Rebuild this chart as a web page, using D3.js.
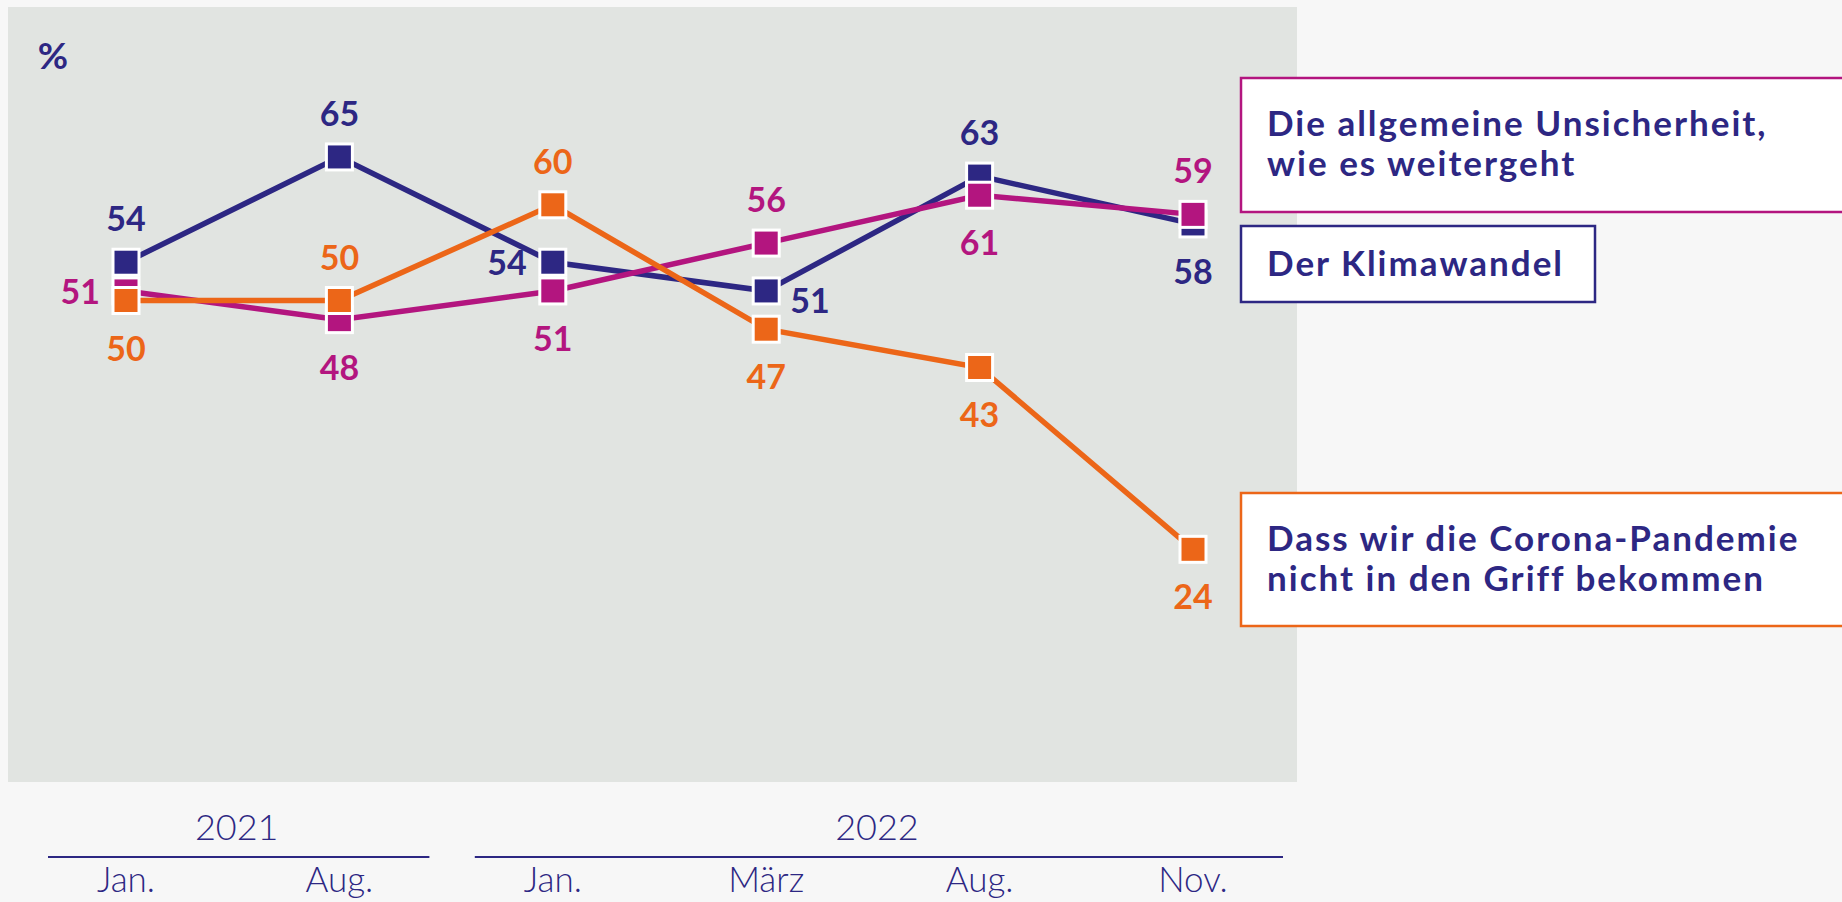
<!DOCTYPE html>
<html>
<head>
<meta charset="utf-8">
<script src="https://cdn.jsdelivr.net/npm/d3@7"></script>
<style>
  body { margin: 0; background: #f7f7f7; }
  svg { display: block; }
</style>
</head>
<body>
<div id="chart"></div>
<script>
// data
var months = ["Jan.", "Aug.", "Jan.", "März", "Aug.", "Nov."];
var years = ["2021", "2022"];
var yearFirst = [0, 2];   // first month index of each year
var yearLast = [1, 5];    // last month index of each year
var klimawandel = [54, 65, 54, 51, 63, 58];
var unsicherheit = [51, 48, 51, 56, 61, 59];
var corona = [50, 50, 60, 47, 43, 24];

var width = 1842, height = 902;
var navy = "#2d2783", magenta = "#b3157f", orange = "#ec6618";

var svg = d3.select("#chart").append("svg")
  .attr("width", width)
  .attr("height", height);

// grey plot panel
svg.append("rect")
  .attr("x", 8).attr("y", 7)
  .attr("width", 1289).attr("height", 775)
  .attr("fill", "#e1e4e1");

var x = d3.scalePoint()
  .domain(d3.range(months.length))
  .range([126, 1193]);

var y = d3.scaleLinear()
  .domain([20, 70])
  .range([587.6, 109.1]);

svg.append("text")
  .attr("x", 53).attr("y", 69)
  .attr("text-anchor", "middle")
  .attr("fill", navy)
  .style("font", "700 37px Lato, sans-serif")
  .text("%");

// label side for each point: a = above, b = below, l = left, r = right
var series = [
  {values: klimawandel, color: navy, sides: ["a", "a", "l", "r", "a", "b"]},
  {values: unsicherheit, color: magenta, sides: ["l", "b", "b", "a", "b", "a"]},
  {values: corona, color: orange, sides: ["b", "a", "a", "b", "b", "b"]}
];

var line = d3.line()
  .x(function(d, i) { return x(i); })
  .y(function(d) { return y(d); });

var sq = 26;

series.forEach(function(s) {
  var g = svg.append("g");
  g.append("path")
    .datum(s.values)
    .attr("d", line)
    .attr("fill", "none")
    .attr("stroke", s.color)
    .attr("stroke-width", 5.5);

  g.selectAll("rect")
    .data(s.values)
    .enter()
    .append("rect")
    .attr("x", function(d, i) { return x(i) - sq / 2; })
    .attr("y", function(d) { return y(d) - sq / 2; })
    .attr("width", sq).attr("height", sq)
    .attr("fill", s.color)
    .attr("stroke", "#ffffff")
    .attr("stroke-width", 3);
});

// value labels drawn after all the marks
series.forEach(function(s) {
  svg.append("g").selectAll("text")
    .data(s.values)
    .enter()
    .append("text")
    .attr("x", function(d, i) {
      var side = s.sides[i];
      if (side == "l") return x(i) - 26;
      if (side == "r") return x(i) + 24;
      return x(i);
    })
    .attr("y", function(d, i) {
      var side = s.sides[i];
      if (side == "a") return y(d) - 31;
      if (side == "b") return y(d) + 60;
      if (side == "r") return y(d) + 22;
      return y(d) + 13;
    })
    .attr("text-anchor", function(d, i) {
      var side = s.sides[i];
      return side == "l" ? "end" : (side == "r" ? "start" : "middle");
    })
    .attr("fill", s.color)
    .style("font", "700 34px Lato, sans-serif")
    .text(function(d) { return d; });
});

// legend boxes
var legend = [
  {lines: ["Die allgemeine Unsicherheit,", "wie es weitergeht"], color: magenta, y: 78, w: 640, h: 134},
  {lines: ["Der Klimawandel"], color: navy, y: 226, w: 354, h: 76},
  {lines: ["Dass wir die Corona-Pandemie", "nicht in den Griff bekommen"], color: orange, y: 493, w: 640, h: 133}
];

legend.forEach(function(l) {
  svg.append("rect")
    .attr("x", 1241).attr("y", l.y)
    .attr("width", l.w).attr("height", l.h)
    .attr("fill", "#ffffff")
    .attr("stroke", l.color)
    .attr("stroke-width", 2.5);
  var first = l.lines.length == 1 ? l.y + 50 : l.y + 58;
  l.lines.forEach(function(t, j) {
    svg.append("text")
      .attr("x", 1267)
      .attr("y", first + j * 40)
      .attr("fill", navy)
      .style("font", "700 35px Lato, sans-serif")
      .style("letter-spacing", "2px")
      .text(t);
  });
});

// x axis: year groups with rule, months below
var axis = svg.append("g");
years.forEach(function(yr, k) {
  var x0 = x(yearFirst[k]) - 78, x1 = x(yearLast[k]) + 90;
  axis.append("line")
    .attr("x1", x0).attr("x2", x1)
    .attr("y1", 857).attr("y2", 857)
    .attr("stroke", navy)
    .attr("stroke-width", 2);
  axis.append("text")
    .attr("x", (x(yearFirst[k]) + x(yearLast[k])) / 2 + 4)
    .attr("y", 840)
    .attr("text-anchor", "middle")
    .attr("fill", navy)
    .style("font", "300 36px Lato, sans-serif")
    .text(yr);
});

axis.selectAll("text.month")
  .data(months)
  .enter()
  .append("text")
  .attr("class", "month")
  .attr("x", function(d, i) { return x(i); })
  .attr("y", 892)
  .attr("text-anchor", "middle")
  .attr("fill", navy)
  .style("font", "300 35px Lato, sans-serif")
  .text(function(d) { return d; });
</script>
</body>
</html>
